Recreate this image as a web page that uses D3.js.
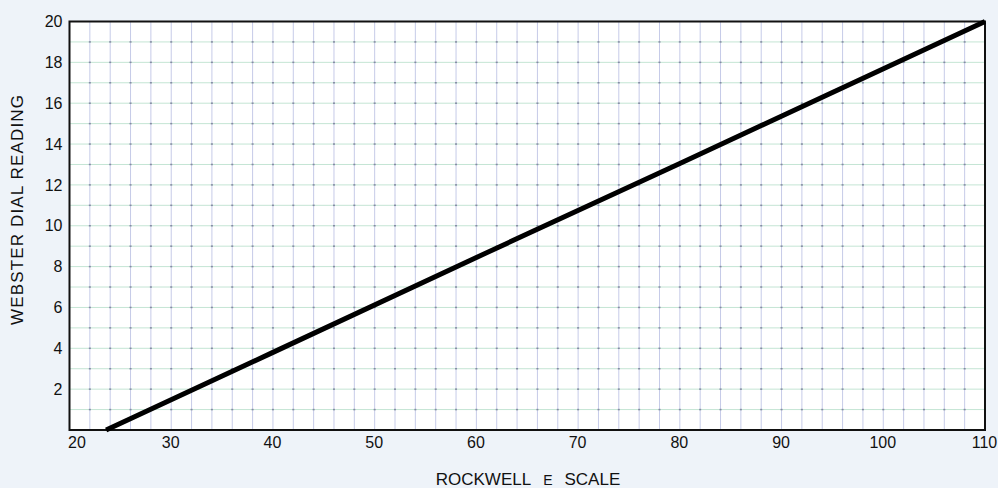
<!DOCTYPE html>
<html>
<head>
<meta charset="utf-8">
<script src="https://cdn.jsdelivr.net/npm/d3@7"></script>
<style>
  body { margin: 0; background: #eef3f9; }
  svg { display: block; }
  .tick-label { font-family: "Liberation Sans", Arial, sans-serif; font-size: 16px; fill: #111; }
  .title { font-family: "Liberation Sans", Arial, sans-serif; font-size: 17px; fill: #111; }
</style>
</head>
<body>
<script>
// data
var xTicks = [20, 30, 40, 50, 60, 70, 80, 90, 100, 110];
var yTicks = [2, 4, 6, 8, 10, 12, 14, 16, 18, 20];
var rockwell = [23.6, 40, 60, 80, 110];
var webster = [0, 3.8, 8.45, 13.05, 20];

var w = 998, h = 488;
var margin = { top: 21.5, right: 13, bottom: 58, left: 69.5 };
var width = w - margin.left - margin.right;
var height = h - margin.top - margin.bottom;

var svg = d3.select("body")
            .append("svg")
            .attr("width", w)
            .attr("height", h);

var g = svg.append("g")
           .attr("transform", `translate(${margin.left},${margin.top})`);

var x = d3.scaleLinear().domain([20, 110]).range([0, width]);
var y = d3.scaleLinear().domain([0, 20]).range([height, 0]);

// plot area
g.append("rect")
 .attr("width", width)
 .attr("height", height)
 .attr("fill", "#fff");

// grid: vertical every 2, horizontal every 1
var xGrid = d3.range(22, 110, 2);
var yGrid = d3.range(1, 20, 1);

g.selectAll(".vgrid")
 .data(xGrid)
 .enter()
 .append("line")
 .attr("class", "vgrid")
 .attr("x1", d => x(d)).attr("x2", d => x(d))
 .attr("y1", 0).attr("y2", height)
 .attr("stroke", "#c6cbe8")
 .attr("stroke-width", 1);

g.selectAll(".hgrid")
 .data(yGrid)
 .enter()
 .append("line")
 .attr("class", "hgrid")
 .attr("x1", 0).attr("x2", width)
 .attr("y1", d => y(d)).attr("y2", d => y(d))
 .attr("stroke", "#c4e5d4")
 .attr("stroke-width", 1);

// little dark marks at grid crossings
var crossings = [];
xGrid.forEach(function (a) {
  yGrid.forEach(function (b) { crossings.push([a, b]); });
});
g.selectAll(".cross")
 .data(crossings)
 .enter()
 .append("rect")
 .attr("class", "cross")
 .attr("x", d => x(d[0]) - 1)
 .attr("y", d => y(d[1]) - 0.75)
 .attr("width", 2)
 .attr("height", 1.5)
 .attr("fill", "#858ba3");

// frame
g.append("rect")
 .attr("width", width)
 .attr("height", height)
 .attr("fill", "none")
 .attr("stroke", "#111")
 .attr("stroke-width", 2);

// the calibration line
var pts = rockwell.map((d, i) => [d, webster[i]]);
g.append("path")
 .datum(pts)
 .attr("d", d3.line().x(d => x(d[0])).y(d => y(d[1])))
 .attr("fill", "none")
 .attr("stroke", "#000")
 .attr("stroke-width", 5);

// axes (labels only)
var xAxis = g.append("g")
             .attr("transform", `translate(0,${height})`)
             .call(d3.axisBottom(x).tickValues(xTicks).tickSize(0).tickPadding(7));
xAxis.select(".domain").remove();
xAxis.selectAll("text")
     .attr("class", "tick-label")
     .attr("dx", (d, i) => i === 0 ? 7 : -1);

var yAxis = g.append("g")
             .call(d3.axisLeft(y).tickValues(yTicks).tickSize(0).tickPadding(7));
yAxis.select(".domain").remove();
yAxis.selectAll("text").attr("class", "tick-label");

// titles
var xt = svg.append("text")
            .attr("class", "title")
            .attr("x", 528)
            .attr("y", 485)
            .attr("text-anchor", "middle");
xt.append("tspan").text("ROCKWELL");
xt.append("tspan").attr("dx", 12).style("font-size", "14px").text("E");
xt.append("tspan").attr("dx", 12).text("SCALE");

svg.append("text")
   .attr("class", "title")
   .attr("transform", "translate(23,210) rotate(-90)")
   .attr("text-anchor", "middle")
   .attr("textLength", 230)
   .text("WEBSTER DIAL READING");
</script>
</body>
</html>
